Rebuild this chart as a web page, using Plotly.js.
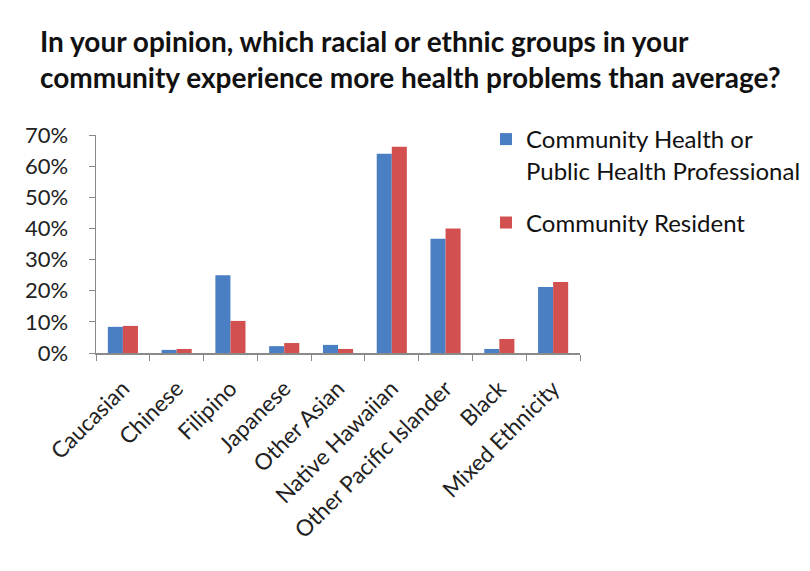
<!DOCTYPE html>
<html><head><meta charset="utf-8">
<script src="https://cdn.plot.ly/plotly-3.0.1.min.js"></script>
<style>html,body{margin:0;padding:0;background:#fff}</style>
</head><body><div id="chart" style="width:810px;height:571px"></div>
<script>
var categories = ["Caucasian","Chinese","Filipino","Japanese","Other Asian","Native Hawaiian","Other Pacific Islander","Black","Mixed Ethnicity"];
var professional = [0.084, 0.010, 0.250, 0.022, 0.026, 0.640, 0.367, 0.013, 0.212];
var resident = [0.087, 0.013, 0.103, 0.032, 0.013, 0.662, 0.400, 0.045, 0.228];
var seriesNames = ["Community Health or<br>Public Health Professional", "Community Resident"];
var yTicks = [0,0.1,0.2,0.3,0.4,0.5,0.6,0.7];

var font = "Lato, 'Open Sans', sans-serif";
var data = [
  {type:'bar', x:categories, y:professional, name:seriesNames[0], legendgroup:'a', marker:{color:'#4a7fc4'}},
  {type:'bar', x:categories, y:resident, name:seriesNames[1], legendgroup:'b', marker:{color:'#d2504f'}}
];
var layout = {
  width:810, height:571,
  paper_bgcolor:'#fff', plot_bgcolor:'#fff',
  font:{family:font, color:'#222'},
  margin:{l:96, r:230, t:135, b:218, autoexpand:false},
  barmode:'group', bargap:0.44, bargroupgap:0,
  title:{text:'<b>In your opinion, which racial or ethnic groups in your<br>community experience more health problems than average?</b>',
    font:{family:font, size:28, color:'#111'}, x:40/810, xanchor:'left', xref:'container',
    y:1-52/571, yanchor:'top', yref:'container'},
  xaxis:{type:'category', showline:true, linecolor:'#8a8a8a', linewidth:1.5,
    ticks:'outside', tickson:'boundaries', ticklen:6, tickcolor:'#8a8a8a',
    tickangle:-45, tickfont:{size:22.5, color:'#222'}, showgrid:false, ticklabelstandoff:12},
  yaxis:{range:[0,0.7], tickvals:yTicks, tickformat:'.0%', showline:true, linecolor:'#8a8a8a', linewidth:1.5,
    ticks:'outside', ticklen:6, tickcolor:'#8a8a8a', showgrid:false, zeroline:false,
    tickfont:{size:22, color:'#222'}, ticklabelstandoff:16},
  legend:{xref:'container', yref:'container', x:486/810, xanchor:'left', y:1-117/571, yanchor:'top',
    font:{size:24, color:'#111'}, valign:'top',
    tracegroupgap:18, itemsizing:'constant', bgcolor:'rgba(0,0,0,0)'},
  showlegend:true
};
Plotly.newPlot('chart', data, layout, {displayModeBar:false, staticPlot:true});
</script></body></html>
